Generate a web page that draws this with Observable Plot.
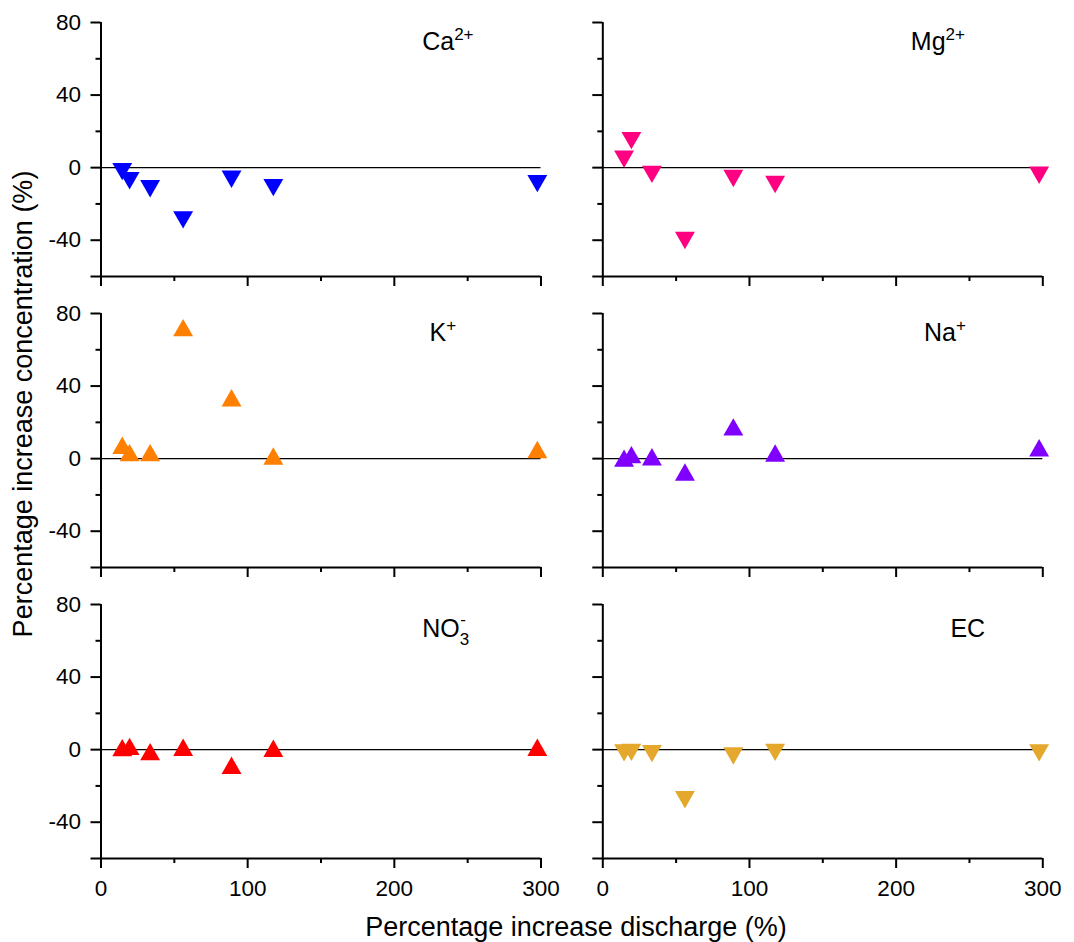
<!DOCTYPE html>
<html><head><meta charset="utf-8">
<script src="https://cdn.jsdelivr.net/npm/d3@7"></script>
<script src="https://cdn.jsdelivr.net/npm/@observablehq/plot@0.6"></script>
<style>
body{margin:0;background:#fff;font-family:"Liberation Sans",Arial,sans-serif;color:#000;}
#wrap{position:relative;width:1074px;height:942px;overflow:hidden;}
.panel{position:absolute;}
.ytitle{position:absolute;left:23px;top:404px;transform:translate(-50%,-50%) rotate(-90deg);font-size:27px;white-space:nowrap;}
.xtitle{position:absolute;left:576px;top:927px;transform:translate(-50%,-50%);font-size:27px;white-space:nowrap;}
</style></head><body><div id="wrap"></div>
<script>
// Data (percentage increase discharge on x, percentage increase concentration on y)
const discharge = [14.5, 19.5, 33.5, 56, 89, 117.5, 297.5];
const ca  = [-2.2, -7.2, -11.6, -28.8, -6.4, -11.0, -8.8];
const mg  = [4.6, 14.9, -3.7, -40.2, -6.0, -9.3, -4.2];
const k   = [7.4, 3.3, 3.3, 72.2, 33.6, 1.5, 5.0];
const na  = [0.3, 2.2, 1.0, -7.4, 17.5, 3.1, 6.0];
const no3 = [1.1, 1.8, -1.1, 1.3, -8.6, 0.8, 1.3];
const ec  = [-1.8, -1.5, -2.2, -27.6, -3.5, -1.5, -1.8];

const yMajor = [-60, -40, 0, 40, 80];
const yMinor = [-20, 20, 60];
const xMajor = [0, 100, 200, 300];
const xMinor = [50, 150, 250];
const yTitle = "Percentage increase concentration (%)";
const xTitle = "Percentage increase discharge (%)";

const panels = [
  {values: ca,  dir: "down", color: "#0000ff", base: "Ca", sup: "2+", sub: null, lx: 219, ly: 65},
  {values: mg,  dir: "down", color: "#ff0080", base: "Mg", sup: "2+", sub: null, lx: 210, ly: 65},
  {values: k,   dir: "up",   color: "#ff8000", base: "K",  sup: "+",  sub: null, lx: 224, ly: 65},
  {values: na,  dir: "up",   color: "#8000ff", base: "Na", sup: "+",  sub: null, lx: 219, ly: 65},
  {values: no3, dir: "up",   color: "#ff0000", base: "NO", sup: "-",  sub: "3",  lx: 219, ly: 62},
  {values: ec,  dir: "down", color: "#e3a82c", base: "EC", sup: null, sub: null, lx: 237, ly: 62}
];

const triUp = {draw(ctx, size){ const r = Math.sqrt(size/Math.PI), w = 1.2*r, h = 1.05*r;
  ctx.moveTo(0,-h); ctx.lineTo(w,h); ctx.lineTo(-w,h); ctx.closePath(); }};
const triDown = {draw(ctx, size){ const r = Math.sqrt(size/Math.PI), w = 1.2*r, h = 1.05*r;
  ctx.moveTo(0,h); ctx.lineTo(w,-h); ctx.lineTo(-w,-h); ctx.closePath(); }};

const wrap = document.getElementById("wrap");
const idx = d3.range(discharge.length);

panels.forEach((p, n) => {
  const col = n % 2, row = Math.floor(n / 2);
  const left = col === 0 ? 0 : 570;
  const width = col === 0 ? 570 : 504;
  const mL = col === 0 ? 100.5 : 32.3;
  const mR = col === 0 ? 29.5 : 31.7;
  const mB = row === 2 ? 55 : 15;
  const height = 22 + 254 + mB;
  const fmtY = col === 0 ? (d => d === -60 ? "" : String(d)) : (() => "");
  const fmtX = row === 2 ? (d => String(d)) : (() => "");
  const chart = Plot.plot({
    width, height,
    marginLeft: mL, marginRight: mR, marginTop: 22, marginBottom: mB,
    style: {fontFamily: '"Liberation Sans", Arial, sans-serif', fontSize: "22.5px", background: "transparent", overflow: "visible", color: "#000"},
    x: {domain: [0, 300]},
    y: {domain: [-60, 80]},
    marks: [
      Plot.ruleY([0], {stroke: "#000", strokeWidth: 1.3}),
      Plot.ruleX([0], {stroke: "#000", strokeWidth: 2}),
      Plot.ruleY([-60], {stroke: "#000", strokeWidth: 2}),
      Plot.axisY(yMajor, {tickSize: 10, tickPadding: 10, tickFormat: fmtY, strokeWidth: 2, fontSize: 22.5, label: null}),
      Plot.axisY(yMinor, {tickSize: 5, tickFormat: () => "", strokeWidth: 2, label: null}),
      Plot.axisX(xMajor, {tickSize: 10, tickPadding: 12, tickFormat: fmtX, strokeWidth: 2, fontSize: 22.5, label: null}),
      Plot.axisX(xMinor, {tickSize: 5, tickFormat: () => "", strokeWidth: 2, label: null}),
      Plot.dot(idx, {x: i => discharge[i], y: i => p.values[i], symbol: p.dir === "up" ? triUp : triDown, r: 8.3, fill: p.color, stroke: "none"}),
      Plot.text([p.base], {x: () => p.lx, y: () => p.ly, text: d => d, textAnchor: "start", lineAnchor: "bottom", fontSize: 25, fill: "#000"})
    ]
  });
  // add superscript / subscript to the panel label
  const lbl = d3.select(chart).selectAll('g[aria-label="text"] text');
  lbl.each(function(){
    const t = d3.select(this);
    t.text(p.base);
    if (p.sub && p.sup) {
      t.append("tspan").attr("dy", 8).attr("font-size", 17).text(p.sub);
      t.append("tspan").attr("dx", -9).attr("dy", -20).attr("font-size", 17).text(p.sup);
    } else if (p.sup) {
      t.append("tspan").attr("dy", -10).attr("font-size", 17).text(p.sup);
    }
  });
  const div = document.createElement("div");
  div.className = "panel";
  div.style.left = left + "px";
  div.style.top = (291 * row) + "px";
  div.appendChild(chart);
  wrap.appendChild(div);
});

const yt = document.createElement("div"); yt.className = "ytitle"; yt.textContent = yTitle; wrap.appendChild(yt);
const xt = document.createElement("div"); xt.className = "xtitle"; xt.textContent = xTitle; wrap.appendChild(xt);
</script></body></html>
